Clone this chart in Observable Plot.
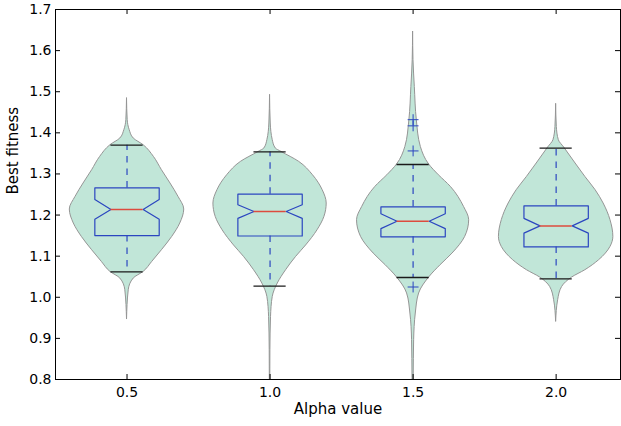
<!DOCTYPE html>
<html><head><meta charset="utf-8">
<script src="https://cdn.jsdelivr.net/npm/d3@7"></script>
<script src="https://cdn.jsdelivr.net/npm/@observablehq/plot@0.6"></script>
<style>
body{margin:0;background:#fff;}
#chart svg{display:block;}
</style></head>
<body><div id="chart"></div>
<script>
// ---- data ----
const alphaValues = [0.5, 1.0, 1.5, 2.0];
const yTicks = [0.8, 0.9, 1.0, 1.1, 1.2, 1.3, 1.4, 1.5, 1.6, 1.7];

const q1        = [1.150, 1.149, 1.147, 1.1225];
const median    = [1.2135, 1.2086, 1.185, 1.1736];
const q3        = [1.266, 1.2507, 1.2198, 1.2222];
const notchLo   = [1.190, 1.192, 1.167, 1.156];
const notchHi   = [1.238, 1.225, 1.203, 1.192];
const whiskerLo = [1.0617, 1.027, 1.0481, 1.0447];
const whiskerHi = [1.370, 1.3536, 1.323, 1.3626];

const flierAlpha = [1.5, 1.5, 1.5, 1.5];
const flierValue = [1.432, 1.417, 1.356, 1.025];

// violin outlines: [value, relative density]
const violin05 = [[1.4835,0],[1.4307,0.012],[1.4064,0.047],[1.3862,0.117],[1.3699,0.29],[1.3414,0.47],[1.3091,0.61],[1.2767,0.76],[1.2442,0.90],[1.2135,1.0],[1.1794,0.93],[1.1469,0.79],[1.1145,0.61],[1.0860,0.44],[1.0617,0.29],[1.0456,0.117],[1.0172,0.03],[0.9459,0]];
const violin10 = [[1.4915,0],[1.4227,0.012],[1.3821,0.047],[1.3619,0.10],[1.3536,0.20],[1.3293,0.51],[1.2969,0.75],[1.2604,0.92],[1.2281,0.99],[1.1955,0.95],[1.1631,0.83],[1.1260,0.63],[1.0982,0.455],[1.0658,0.28],[1.0335,0.135],[1.0009,0.047],[0.9523,0.017],[0.8712,0.006],[0.7982,0.004],[0.78,0.003]];
const violin15 = [[1.6455,0],[1.5767,0.007],[1.5117,0.03],[1.4307,0.065],[1.3658,0.135],[1.3230,0.28],[1.2969,0.45],[1.2685,0.66],[1.2198,0.89],[1.1875,0.98],[1.1469,0.91],[1.1065,0.69],[1.078,0.48],[1.0481,0.28],[1.0092,0.105],[0.9605,0.047],[0.8956,0.018],[0.8031,0.01],[0.78,0.008]];
const violin20 = [[1.4696,0],[1.4144,0.012],[1.3821,0.047],[1.3643,0.14],[1.3254,0.34],[1.2928,0.51],[1.2604,0.69],[1.2281,0.83],[1.1875,0.95],[1.1469,1.0],[1.1225,0.95],[1.0900,0.75],[1.0658,0.51],[1.0481,0.28],[1.0252,0.105],[0.9929,0.035],[0.9401,0]];

// ---- styling constants ----
const VIOLIN_HALF = 0.2;     // max half-width in x units
const BOX_HALF = 0.1125;
const NOTCH_HALF = 0.05625;
const CAP_HALF = 0.05625;
const blue = "#2b46c0";

const violinProfiles = [violin05, violin10, violin15, violin20];
const violinRows = alphaValues.flatMap((a, i) =>
  violinProfiles[i].map(([v, d]) => ({alpha: a, value: v, density: d})));

const boxRows = alphaValues.flatMap((a, i) => {
  const pts = [[-BOX_HALF, q1[i]], [-BOX_HALF, notchLo[i]], [-NOTCH_HALF, median[i]], [-BOX_HALF, notchHi[i]],
               [-BOX_HALF, q3[i]], [BOX_HALF, q3[i]], [BOX_HALF, notchHi[i]], [NOTCH_HALF, median[i]],
               [BOX_HALF, notchLo[i]], [BOX_HALF, q1[i]], [-BOX_HALF, q1[i]]];
  return pts.map(([o, v]) => ({alpha: a, off: o, value: v}));
});
const whiskerRows = alphaValues.flatMap((a, i) => [
  {alpha: a, from: q3[i], to: whiskerHi[i]},
  {alpha: a, from: q1[i], to: whiskerLo[i]}
]);
const capRows = alphaValues.flatMap((a, i) => [
  {alpha: a, value: whiskerHi[i]}, {alpha: a, value: whiskerLo[i]}
]);
const medianRows = alphaValues.map((a, i) => ({alpha: a, value: median[i]}));
const flierRows = flierAlpha.map((a, i) => ({alpha: a, value: flierValue[i]}));

const W = 621, H = 426, mL = 55, mR = 1, mT = 9, mB = 47;
const plotW = W - mL - mR, plotH = H - mT - mB;

const chart = Plot.plot({
  width: W, height: H,
  marginLeft: mL, marginRight: mR, marginTop: mT, marginBottom: mB,
  style: {fontFamily: "'DejaVu Sans', sans-serif", fontSize: "14px", color: "#000", background: "#fff"},
  x: {domain: [0.25, 2.225]},
  y: {domain: [0.8, 1.7]},
  marks: [
    Plot.areaX(violinRows, {
      y: "value", x1: d => d.alpha - d.density * VIOLIN_HALF, x2: d => d.alpha + d.density * VIOLIN_HALF,
      z: "alpha", curve: "monotone-y", fill: "#c1e6d8", stroke: "#959595", strokeWidth: 1, clip: true
    }),
    Plot.ruleX(whiskerRows, {x: "alpha", y1: "from", y2: "to", stroke: blue, strokeWidth: 1.2, strokeDasharray: "6.5,6"}),
    Plot.ruleY(capRows, {y: "value", x1: d => d.alpha - CAP_HALF, x2: d => d.alpha + CAP_HALF, stroke: "#1a1a1a", strokeWidth: 1.3}),
    Plot.line(boxRows, {x: d => d.alpha + d.off, y: "value", z: "alpha", stroke: blue, strokeWidth: 1.2, curve: "linear"}),
    Plot.ruleY(medianRows, {y: "value", x1: d => d.alpha - NOTCH_HALF, x2: d => d.alpha + NOTCH_HALF, stroke: "#dd4b3e", strokeWidth: 1.5}),
    Plot.dot(flierRows, {x: "alpha", y: "value", symbol: "plus", r: 3.6, stroke: blue, strokeWidth: 1}),
    Plot.frame({stroke: "#000", strokeWidth: 1}),
    // inward ticks on all four sides
    Plot.tickY(yTicks, {y: d => d, insetRight: plotW - 5, stroke: "#000"}),
    Plot.tickY(yTicks, {y: d => d, insetLeft: plotW - 5, stroke: "#000"}),
    Plot.tickX(alphaValues, {x: d => d, insetTop: plotH - 5, stroke: "#000"}),
    Plot.tickX(alphaValues, {x: d => d, insetBottom: plotH - 5, stroke: "#000"}),
    Plot.axisY({ticks: yTicks, tickFormat: d3.format(".1f"), tickSize: 0, tickPadding: 4, label: null}),
    Plot.axisX({ticks: alphaValues, tickFormat: d3.format(".1f"), tickSize: 0, tickPadding: 8, label: null}),
    Plot.text(["Best fitness"], {frameAnchor: "left", dx: -42, rotate: -90, text: d => d, fontSize: 15}),
    Plot.text(["Alpha value"], {frameAnchor: "bottom", dy: 34, text: d => d, fontSize: 15})
  ]
});
document.getElementById("chart").appendChild(chart);
</script>
</body></html>
